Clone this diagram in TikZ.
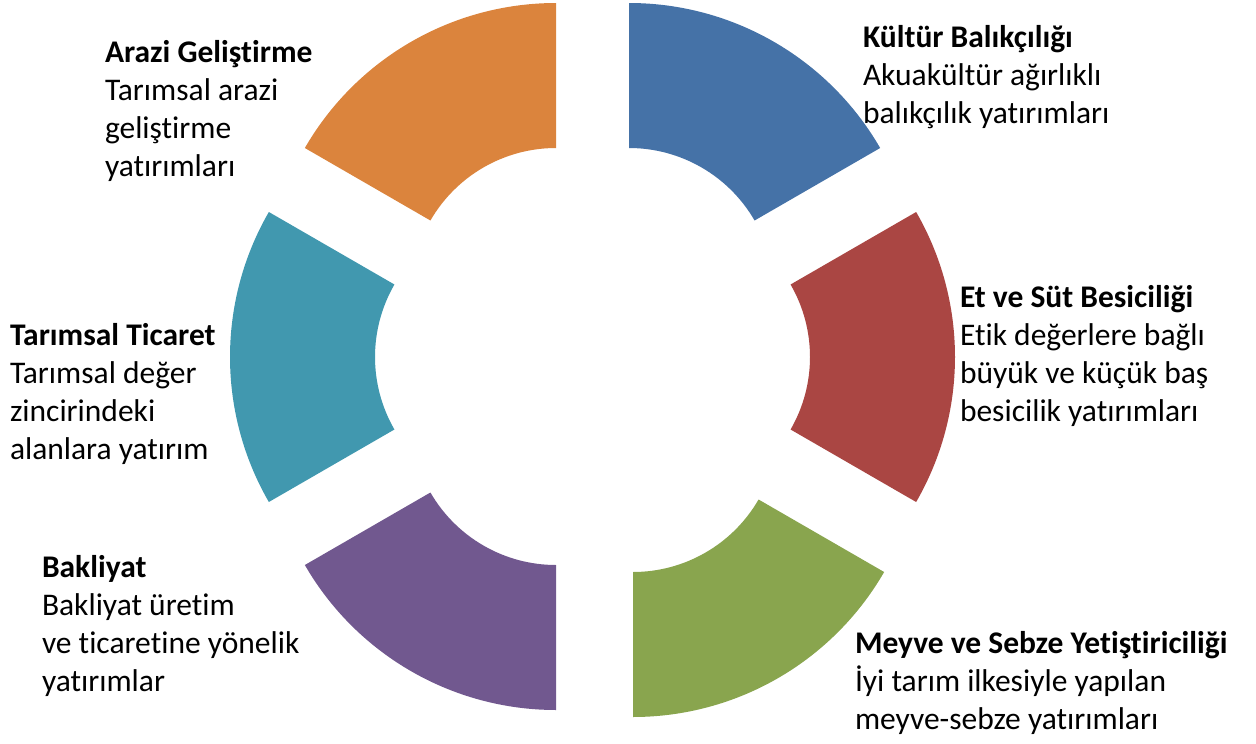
\documentclass[tikz,border=0pt]{standalone}
\usepackage{fontspec}
\setmainfont{Carlito}[Ligatures={NoCommon,NoContextual}]
\usetikzlibrary{calc}
\definecolor{segblue}{HTML}{4572A7}
\definecolor{segred}{HTML}{AA4643}
\definecolor{seggreen}{HTML}{89A54E}
\definecolor{segpurple}{HTML}{71588F}
\definecolor{segteal}{HTML}{4198AF}
\definecolor{segorange}{HTML}{DB843D}
\tikzset{
  lbl/.style={anchor=base west, inner sep=0pt, outer sep=0pt, align=left,
    font=\fontsize{31.5}{38}\selectfont, text=black},
}
\newcommand{\ringseg}[4]{% center, start angle, end angle, colour
  \fill[#4] ($(#1)+(#2:290pt)$) arc[start angle=#2, end angle=#3, radius=290pt]
    -- ($(#1)+(#3:145pt)$) arc[start angle=#3, end angle=#2, radius=145pt] -- cycle;
}
\begin{document}
\begin{tikzpicture}[x=1pt,y=1pt]
\useasboundingbox (0,0) rectangle (1256,-744);
\coordinate (cb) at (629,-293);
\coordinate (cr) at (665,-357);
\coordinate (cg) at (633,-427);
\coordinate (cp) at (556,-420);
\coordinate (ct) at (520,-357);
\coordinate (co) at (556,-293);
\ringseg{cb}{30}{90}{segblue}
\ringseg{cr}{-30}{30}{segred}
\ringseg{cg}{-90}{-30}{seggreen}
\ringseg{cp}{-150}{-90}{segpurple}
\ringseg{ct}{150}{210}{segteal}
\ringseg{co}{90}{150}{segorange}
% base anchor = baseline of the last line
\node[lbl] (tb) at (863,-123) {\textbf{Kültür Balıkçılığı}\\Akuakültür ağırlıklı\\balıkçılık yatırımları};
\node[lbl] (tr) at (960,-421) {\textbf{Et ve Süt Besiciliği}\\Etik değerlere bağlı\\büyük ve küçük baş\\besicilik yatırımları};
\node[lbl] (tg) at (855,-729) {\textbf{Meyve ve Sebze Yetiştiriciliği}\\İyi tarım ilkesiyle yapılan\\meyve-sebze yatırımları};
\node[lbl] (tp) at (42,-691) {\textbf{Bakliyat}\\Bakliyat üretim\\ve ticaretine yönelik\\yatırımlar};
\node[lbl] (tt) at (10,-459) {\textbf{Tarımsal Ticaret}\\Tarımsal değer\\zincirindeki\\alanlara yatırım};
\node[lbl] (to) at (105,-176) {\textbf{Arazi Geliştirme}\\Tarımsal arazi\\geliştirme\\yatırımları};
\end{tikzpicture}
\end{document}
